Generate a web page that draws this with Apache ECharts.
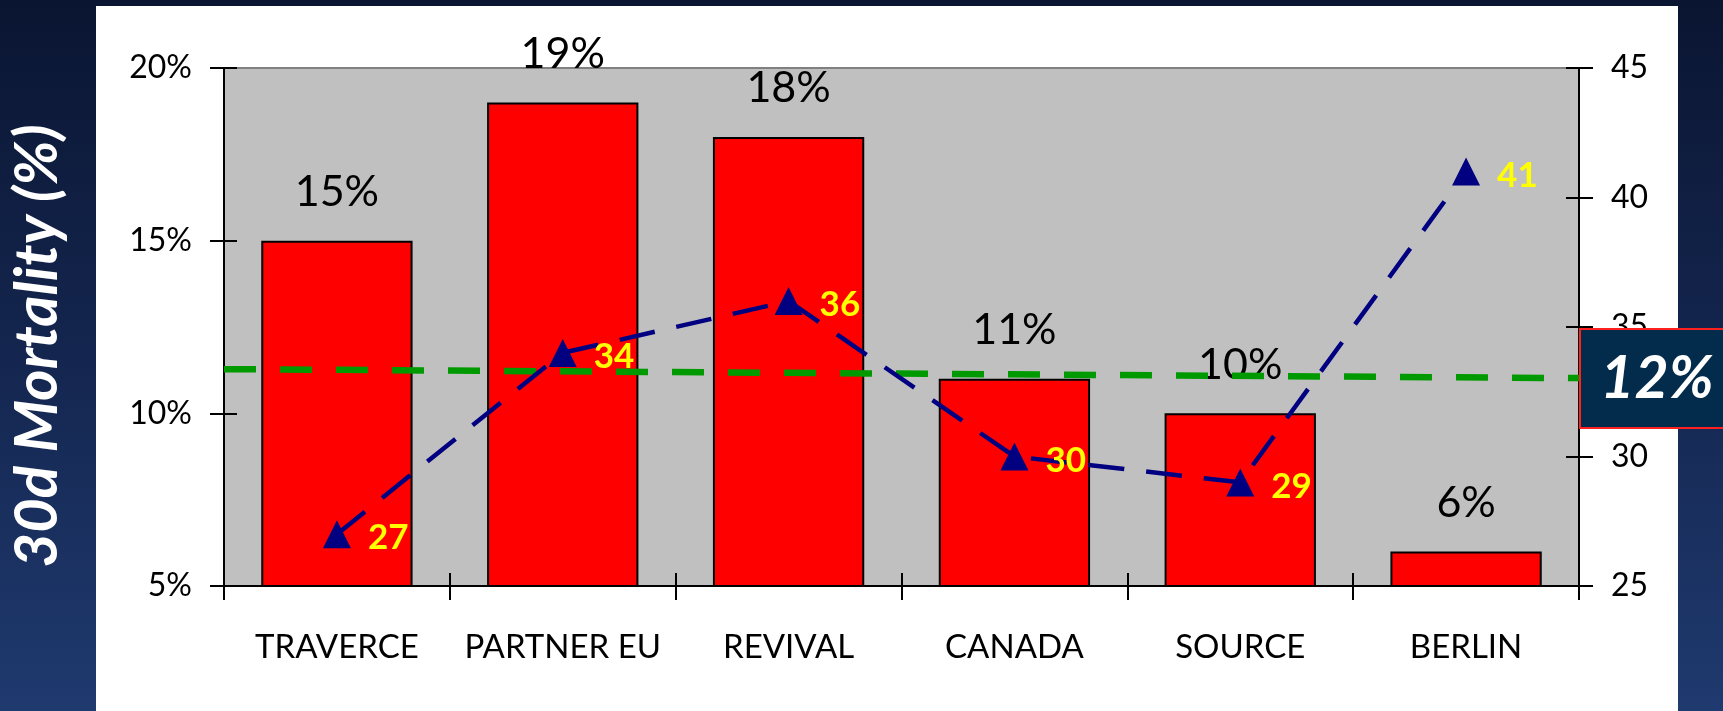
<!DOCTYPE html>
<html>
<head>
<meta charset="utf-8">
<script src="https://cdn.jsdelivr.net/npm/echarts@6/dist/echarts.min.js"></script>
<style>
  html, body { margin: 0; padding: 0; width: 1723px; height: 711px; overflow: hidden;
    background: linear-gradient(180deg, #0a1531 0%, #13244c 45%, #1f3a6f 100%); }
  #panel { position: absolute; left: 96px; top: 6px; width: 1582px; height: 705px; background: #ffffff; }
  #chart { position: absolute; left: 0; top: 0; width: 1723px; height: 711px; }
</style>
</head>
<body>
<div id="panel"></div>
<div id="chart"></div>
<script>
// ---- data ----
const categories = ['TRAVERCE', 'PARTNER EU', 'REVIVAL', 'CANADA', 'SOURCE', 'BERLIN'];
const mortality = [15, 19, 18, 11, 10, 6];          // bars, left axis (%)
const secondValues = [27, 34, 36, 30, 29, 41];      // triangles, right axis
const avgLine = [[0, 11.28], [1, 11.02]];           // green dashed reference line (left axis %)
const avgLabel = '12%';
const leftTicks = [5, 10, 15, 20];
const rightTicks = [25, 30, 35, 40, 45];
const yTitle = '30d Mortality (%)';

const FONT = 'Lato';
const chart = echarts.init(document.getElementById('chart'), null, { renderer: 'canvas' });

const leftBase = {
  type: 'value', position: 'left',
  min: leftTicks[0], max: leftTicks[leftTicks.length - 1], interval: leftTicks[1] - leftTicks[0],
  splitLine: { show: false }
};
const rightBase = {
  type: 'value', position: 'right',
  min: rightTicks[0], max: rightTicks[rightTicks.length - 1], interval: rightTicks[1] - rightTicks[0],
  splitLine: { show: false }
};

chart.setOption({
  backgroundColor: 'transparent',
  animation: false,
  grid: { left: 224, right: 144, top: 68, bottom: 125, show: true, backgroundColor: '#c0c0c0', borderWidth: 0 },
  xAxis: [
    {
      type: 'category', data: categories, position: 'bottom',
      axisLine: { show: true, lineStyle: { color: '#000', width: 2 } },
      axisTick: { show: true, inside: false, length: 14, interval: 0, alignWithLabel: false, lineStyle: { color: '#000', width: 2 } },
      axisLabel: { interval: 0, margin: 45, color: '#000', fontFamily: FONT, fontSize: 33 },
      splitLine: { show: false }
    },
    {
      type: 'category', data: categories, position: 'bottom',
      axisLine: { show: false },
      axisTick: { show: true, inside: true, length: 13, interval: 0, alignWithLabel: false, lineStyle: { color: '#000', width: 2 } },
      axisLabel: { show: false },
      splitLine: { show: false }
    },
    {
      type: 'value', position: 'top', min: 0, max: 1,
      axisLine: { show: true, onZero: false, lineStyle: { color: '#808080', width: 2 } },
      axisTick: { show: false }, axisLabel: { show: false }, splitLine: { show: false }
    }
  ],
  yAxis: [
    Object.assign({}, leftBase, {
      axisLine: { show: true, onZero: false, lineStyle: { color: '#000', width: 2 } },
      axisTick: { show: true, length: 14, lineStyle: { color: '#000', width: 2 } },
      axisLabel: { formatter: '{value}%', margin: 32, color: '#000', fontFamily: FONT, fontSize: 32 }
    }),
    Object.assign({}, rightBase, {
      axisLine: { show: true, onZero: false, lineStyle: { color: '#000', width: 2 } },
      axisTick: { show: true, length: 14, lineStyle: { color: '#000', width: 2 } },
      axisLabel: { margin: 32, color: '#000', fontFamily: FONT, fontSize: 32 }
    }),
    Object.assign({}, leftBase, {
      axisLine: { show: false },
      axisTick: { show: true, inside: true, length: 13, lineStyle: { color: '#000', width: 2 } },
      axisLabel: { show: false }
    }),
    Object.assign({}, rightBase, {
      axisLine: { show: false },
      axisTick: { show: true, inside: true, length: 13, lineStyle: { color: '#000', width: 2 } },
      axisLabel: { show: false }
    })
  ],
  series: [
    {
      name: 'Mortality', type: 'bar', xAxisIndex: 0, yAxisIndex: 0,
      data: mortality, barWidth: '67%', z: 2,
      itemStyle: { color: '#ff0000', borderColor: '#000', borderWidth: 2 },
      label: { show: true, position: 'top', distance: 27, formatter: '{c}%', color: '#000', fontFamily: FONT, fontSize: 43 }
    },
    {
      name: 'Average', type: 'line', xAxisIndex: 2, yAxisIndex: 0,
      data: avgLine, symbol: 'none', z: 5, silent: true,
      lineStyle: { color: '#009900', width: 6.5, type: [32, 24], cap: 'butt' }
    },
    {
      name: 'Second', type: 'line', xAxisIndex: 0, yAxisIndex: 1,
      data: secondValues, symbol: 'triangle', symbolSize: 28, z: 6,
      itemStyle: { color: '#000080' },
      lineStyle: { color: '#000080', width: 4.5, type: [36, 22] },
      label: { show: true, position: 'right', distance: 17, offset: [0, 4], color: '#ffff00', fontFamily: FONT, fontWeight: 'bold', fontSize: 35 }
    }
  ],
  graphic: [
    {
      type: 'text', x: 38, y: 346, rotation: Math.PI / 2, z: 10,
      style: { text: yTitle, fill: '#ffffff', font: 'italic bold 60px Lato', align: 'center', verticalAlign: 'middle' }
    },
    {
      type: 'rect', z: 20,
      shape: { x: 1580, y: 329, width: 150, height: 99 },
      style: { fill: '#032b4b', stroke: '#ff2020', lineWidth: 2 }
    },
    {
      type: 'text', x: 1657, y: 379, z: 21,
      style: { text: avgLabel, fill: '#ffffff', font: 'italic bold 59px Lato', align: 'center', verticalAlign: 'middle' }
    }
  ]
});
</script>
</body>
</html>
